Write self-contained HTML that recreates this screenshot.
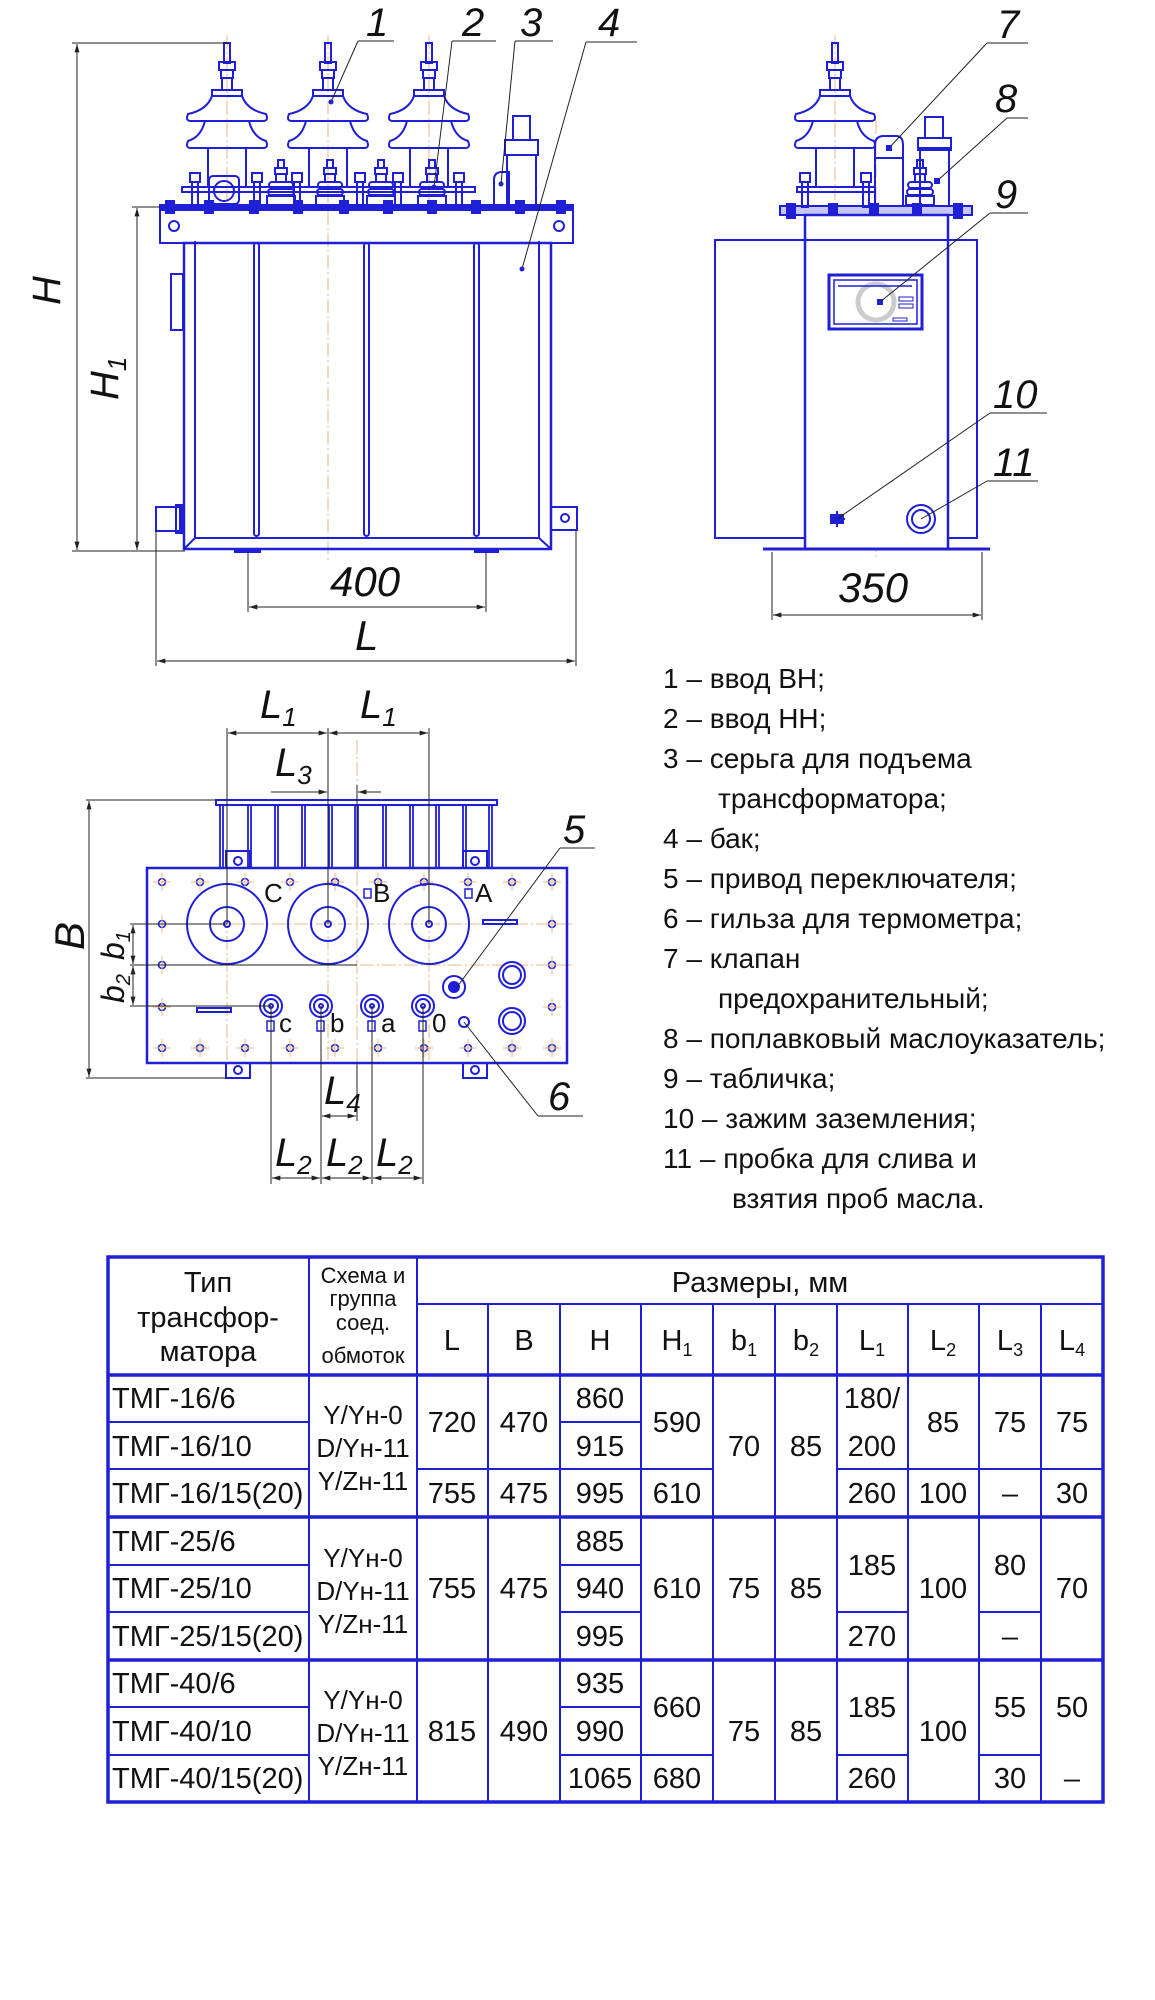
<!DOCTYPE html>
<html><head><meta charset="utf-8"><style>
html,body{margin:0;padding:0;background:#fff}
svg{display:block}
.b{stroke:#1f1fd6;fill:none;stroke-width:2}
.bf{fill:#1f1fd6}
.d{stroke:#222;fill:none;stroke-width:1}
.c{stroke:#e8b98a;stroke-width:1;stroke-dasharray:14 3 2 3;fill:none}
.lab{font-family:"Liberation Sans",sans-serif;font-style:italic;fill:#111}
.lg{font-family:"Liberation Sans Narrow","Liberation Sans","DejaVu Sans",sans-serif;font-size:28px;fill:#111}
.t{font-family:"Liberation Sans Narrow","Liberation Sans",sans-serif;font-size:29px;fill:#111}
.ts{font-family:"Liberation Sans Narrow","Liberation Sans",sans-serif;font-size:22px;fill:#111}
.tsc{font-family:"Liberation Sans Narrow","Liberation Sans",sans-serif;font-size:26px;fill:#111}
.tl{stroke:#1f1fd6;stroke-width:2;fill:none}
.tk{stroke:#1f1fd6;stroke-width:3.5;fill:none}
</style></head><body>
<svg width="1155" height="2000" viewBox="0 0 1155 2000" xmlns="http://www.w3.org/2000/svg">
<defs>
<marker id="ar" viewBox="0 0 10 6" refX="10" refY="3" markerWidth="12" markerHeight="5" orient="auto-start-reverse"><path d="M0,0 L10,3 L0,6 Z" fill="#222"/></marker>
<g id="hv">
<rect x="-3" y="43" width="6" height="20" class="b"/>
<rect x="-8" y="62" width="16" height="8" class="b"/>
<rect x="-6" y="70" width="12" height="8" class="b"/>
<rect x="-5" y="78" width="10" height="12" class="b"/>
<rect x="-15" y="90" width="30" height="6" class="b"/>
<path class="b" d="M-15,96 Q-20,110 -39,114 Q-42,121 -36,121 L36,121 Q42,121 39,114 Q20,110 15,96"/>
<path class="b" d="M-22,121 Q-26,137 -39,141 Q-42,148 -36,148 L36,148 Q42,148 39,141 Q26,137 22,121"/>
<path class="b" d="M-19,148 L-19,188 M19,148 L19,188"/>
</g>
<g id="lv">
<rect x="-3" y="160" width="6" height="8" class="b"/>
<rect x="-6" y="168" width="12" height="6" class="b"/>
<rect x="-5" y="174" width="10" height="8" class="b"/>
<rect x="-12" y="182" width="24" height="6" rx="3" class="b"/>
<rect x="-13" y="189" width="26" height="6" rx="3" class="b"/>
<rect x="-14" y="196" width="28" height="9" class="b"/>
</g>
<g id="st">
<rect x="-5" y="173" width="10" height="9" class="b"/>
<rect x="-3" y="182" width="6" height="25" class="b"/>
</g>
<g id="bh"><circle r="3.5" class="b" style="stroke-width:1.6"/><path d="M-9,0 H9 M0,-9 V9" class="c" style="stroke-dasharray:none"/></g>
</defs>

<!-- ================= FRONT VIEW ================= -->
<g>
<path class="c" d="M227,35 V200 M328,35 V560 M429,35 V200"/>
<use href="#hv" x="227"/><use href="#hv" x="328"/><use href="#hv" x="429"/>
<rect x="182" y="187" width="293" height="5" class="b"/>
<use href="#lv" x="281"/><use href="#lv" x="330"/><use href="#lv" x="381"/><use href="#lv" x="432"/>
<use href="#st" x="195"/><use href="#st" x="257"/><use href="#st" x="297"/><use href="#st" x="360"/><use href="#st" x="398"/><use href="#st" x="459"/>
<rect x="209" y="176" width="30" height="28" rx="4" class="b"/><circle cx="224" cy="191" r="10" class="b"/>
<path class="b" d="M494,204 V180 Q494,172 502,172 L509,172 V204"/>
<rect x="507" y="155" width="29" height="52" class="b"/>
<rect x="505" y="140" width="33" height="15" class="b"/>
<rect x="513" y="116" width="17" height="24" class="b"/>
<rect x="160" y="205" width="413" height="5" class="b bf"/>
<rect x="160" y="210" width="413" height="33" class="b"/>
<circle cx="174" cy="226" r="5" class="b"/><circle cx="559" cy="226" r="5" class="b"/>
<g class="bf">
<rect x="165" y="200" width="10" height="14"/><rect x="204" y="200" width="10" height="14"/><rect x="249" y="200" width="10" height="14"/><rect x="293" y="200" width="10" height="14"/><rect x="339" y="200" width="10" height="14"/><rect x="383" y="200" width="10" height="14"/><rect x="427" y="200" width="10" height="14"/><rect x="471" y="200" width="10" height="14"/><rect x="515" y="200" width="10" height="14"/><rect x="556" y="200" width="10" height="14"/>
</g>
<rect x="184" y="243" width="367" height="306" class="b" style="stroke-width:2.5"/>
<path class="b" d="M195,241 V538 H539 V241 M184,549 L195,538 M551,549 L539,538"/>
<rect x="254" y="243" width="5" height="293" rx="2.5" class="b"/>
<rect x="364" y="243" width="5" height="293" rx="2.5" class="b"/>
<rect x="474" y="243" width="5" height="293" rx="2.5" class="b"/>
<rect x="171" y="274" width="12" height="56" class="b"/>
<rect x="156" y="507" width="24" height="24" class="b"/><rect x="176" y="505" width="6" height="28" class="b"/>
<rect x="551" y="507" width="26" height="23" class="b"/><circle cx="565" cy="518" r="4" class="b"/>
<rect x="235" y="549" width="25" height="3" class="b bf"/><rect x="475" y="549" width="23" height="3" class="b bf"/>
<path class="d" d="M72,43 H228 M72,551 H185 M132,207 H160 M132,551 H160 M248,552 V612 M486,552 V612 M156,531 V666 M576,530 V666"/>
<path class="d" marker-start="url(#ar)" marker-end="url(#ar)" d="M77,44 V550"/>
<path class="d" marker-start="url(#ar)" marker-end="url(#ar)" d="M137,208 V550"/>
<path class="d" marker-start="url(#ar)" marker-end="url(#ar)" d="M249,607 H485"/>
<path class="d" marker-start="url(#ar)" marker-end="url(#ar)" d="M157,661 H575"/>
<text class="lab" font-size="40" transform="translate(60,305) rotate(-90)">H</text>
<text class="lab" font-size="40" transform="translate(118,400) rotate(-90)">H<tspan font-size="26" dy="8">1</tspan></text>
<text class="lab" font-size="42" x="330" y="596">400</text>
<text class="lab" font-size="42" x="355" y="650">L</text>
<path class="d" d="M358,41 H394 M358,41 L331,102 M452,41 H496 M452,41 L434,187 M515,41 H553 M515,41 L501,184 M586,42 H637 M586,42 L522,269"/>
<g class="bf"><circle cx="331" cy="102" r="2.5"/><circle cx="434" cy="187" r="2.5"/><circle cx="501" cy="184" r="2.5"/><circle cx="522" cy="269" r="2.5"/></g>
<text class="lab" font-size="40" x="366" y="36">1</text>
<text class="lab" font-size="40" x="462" y="36">2</text>
<text class="lab" font-size="40" x="520" y="36">3</text>
<text class="lab" font-size="40" x="598" y="36">4</text>
</g>

<!-- ================= SIDE VIEW ================= -->
<g>
<path class="c" d="M876,120 V560 M835,35 V200"/>
<use href="#hv" x="835"/>
<rect x="797" y="187" width="78" height="5" class="b"/>
<use href="#st" x="805"/><use href="#st" x="866"/>
<use href="#lv" x="920"/>
<path class="b" d="M875,206 V145 Q875,136 884,136 L896,136 Q903,136 903,145 V206 M875,158 H903"/>
<rect x="920" y="148" width="29" height="58" class="b"/>
<rect x="918" y="138" width="33" height="12" class="b"/>
<rect x="925" y="117" width="18" height="21" class="b"/>
<rect x="780" y="206" width="192" height="9" class="b bf" style="fill-opacity:.25"/>
<g class="bf"><rect x="786" y="203" width="10" height="16"/><rect x="828" y="203" width="10" height="16"/><rect x="869" y="203" width="10" height="16"/><rect x="912" y="203" width="10" height="16"/><rect x="953" y="203" width="10" height="16"/></g>
<rect x="715" y="240" width="262" height="298" class="b"/>
<rect x="805" y="215" width="143" height="334" class="b" style="fill:#fff;stroke-width:2.5"/>
<path class="b" d="M805,240 H948"/>
<rect x="829" y="275" width="93" height="54" class="b" style="stroke-width:3"/>
<rect x="834" y="280" width="83" height="44" class="b" style="stroke-width:1.5"/>
<circle cx="876" cy="302" r="18" fill="none" stroke="#ccc" stroke-width="5"/>
<path d="M838,286 H912" class="b" style="stroke-width:1.5"/>
<rect x="899" y="297" width="14" height="4" class="b" style="stroke-width:1"/><rect x="899" y="304" width="14" height="4" class="b" style="stroke-width:1"/><rect x="893" y="318" width="14" height="3" class="b" style="stroke-width:1"/>
<path class="b" d="M831,519 H845 M837,511 V527"/><rect x="831" y="515" width="12" height="8" class="b bf"/>
<circle cx="921" cy="519" r="14" class="b"/><circle cx="921" cy="519" r="9" class="b"/>
<path class="b" d="M763,549 H990" style="stroke-width:3"/>
<path class="d" d="M772,552 V620 M982,552 V620"/>
<path class="d" marker-start="url(#ar)" marker-end="url(#ar)" d="M773,615 H981"/>
<text class="lab" font-size="42" x="838" y="602">350</text>
<path class="d" d="M987,43 H1028 M987,43 L889,148 M1007,118 H1028 M1007,118 L937,181 M990,213 H1028 M990,213 L880,302 M990,413 H1047 M990,413 L837,519 M987,481 H1038 M987,481 L921,519"/>
<g class="bf"><rect x="886" y="145" width="6" height="6"/><rect x="934" y="178" width="6" height="6"/><rect x="877" y="299" width="6" height="6"/></g>
<text class="lab" font-size="40" x="997" y="38">7</text>
<text class="lab" font-size="40" x="995" y="112">8</text>
<text class="lab" font-size="40" x="995" y="208">9</text>
<text class="lab" font-size="40" x="993" y="408">10</text>
<text class="lab" font-size="40" x="993" y="476">11</text>
</g>

<!-- ================= PLAN VIEW ================= -->
<g>
<path class="c" d="M140,924 H575 M140,965 H575 M357,740 V1085 M227,870 V1060 M328,870 V1060 M429,870 V1060"/>
<rect x="216" y="800" width="281" height="5" class="b"/>
<g class="b" style="stroke-width:1.8">
<rect x="220" y="805" width="3" height="63"/><rect x="248" y="805" width="3" height="63"/><rect x="275" y="805" width="3" height="63"/><rect x="302" y="805" width="3" height="63"/><rect x="329" y="805" width="3" height="63"/><rect x="355" y="805" width="3" height="63"/><rect x="383" y="805" width="3" height="63"/><rect x="410" y="805" width="3" height="63"/><rect x="436" y="805" width="3" height="63"/><rect x="463" y="805" width="3" height="63"/><rect x="489" y="805" width="3" height="63"/>
</g>
<rect x="226" y="851" width="24" height="17" class="b"/><circle cx="238" cy="861" r="4" class="b"/>
<rect x="463" y="851" width="24" height="17" class="b"/><circle cx="475" cy="861" r="4" class="b"/>
<rect x="226" y="1063" width="24" height="15" class="b"/><circle cx="238" cy="1070" r="4" class="b"/>
<rect x="463" y="1063" width="24" height="15" class="b"/><circle cx="475" cy="1070" r="4" class="b"/>
<rect x="147" y="868" width="420" height="195" class="b" style="stroke-width:2.5"/>
<g>
<use href="#bh" x="162" y="882"/><use href="#bh" x="200" y="882"/><use href="#bh" x="245" y="882"/><use href="#bh" x="290" y="882"/><use href="#bh" x="335" y="882"/><use href="#bh" x="378" y="882"/><use href="#bh" x="424" y="882"/><use href="#bh" x="468" y="882"/><use href="#bh" x="512" y="882"/><use href="#bh" x="552" y="882"/>
<use href="#bh" x="162" y="1048"/><use href="#bh" x="200" y="1048"/><use href="#bh" x="245" y="1048"/><use href="#bh" x="290" y="1048"/><use href="#bh" x="335" y="1048"/><use href="#bh" x="378" y="1048"/><use href="#bh" x="424" y="1048"/><use href="#bh" x="468" y="1048"/><use href="#bh" x="512" y="1048"/><use href="#bh" x="552" y="1048"/>
<use href="#bh" x="162" y="924"/><use href="#bh" x="162" y="965"/><use href="#bh" x="162" y="1007"/>
<use href="#bh" x="552" y="924"/><use href="#bh" x="552" y="965"/><use href="#bh" x="552" y="1007"/>
</g>
<g class="b">
<circle cx="227" cy="924" r="40"/><circle cx="227" cy="924" r="17"/><circle cx="227" cy="924" r="3"/>
<circle cx="328" cy="924" r="40"/><circle cx="328" cy="924" r="17"/><circle cx="328" cy="924" r="3"/>
<circle cx="429" cy="924" r="40"/><circle cx="429" cy="924" r="17"/><circle cx="429" cy="924" r="3"/>
<rect x="483" y="920" width="34" height="4"/><rect x="197" y="1008" width="34" height="4"/>
<rect x="364" y="889" width="7" height="9" style="stroke-width:1.5"/><rect x="465" y="889" width="7" height="9" style="stroke-width:1.5"/>
<circle cx="271" cy="1006" r="11"/><circle cx="271" cy="1006" r="7"/><circle cx="271" cy="1006" r="2"/>
<circle cx="321" cy="1006" r="11"/><circle cx="321" cy="1006" r="7"/><circle cx="321" cy="1006" r="2"/>
<circle cx="372" cy="1006" r="11"/><circle cx="372" cy="1006" r="7"/><circle cx="372" cy="1006" r="2"/>
<circle cx="423" cy="1006" r="11"/><circle cx="423" cy="1006" r="7"/><circle cx="423" cy="1006" r="2"/>
<rect x="267" y="1021" width="7" height="10" style="stroke-width:1.5"/><rect x="317" y="1021" width="7" height="10" style="stroke-width:1.5"/><rect x="368" y="1021" width="7" height="10" style="stroke-width:1.5"/><rect x="419" y="1021" width="7" height="10" style="stroke-width:1.5"/>
<circle cx="454" cy="987" r="11"/><circle cx="454" cy="987" r="5" class="bf"/>
<circle cx="512" cy="975" r="13"/><circle cx="512" cy="975" r="9"/>
<circle cx="512" cy="1021" r="13"/><circle cx="512" cy="1021" r="9"/>
<circle cx="464" cy="1022" r="5"/>
</g>
<g class="lab" style="font-style:normal" font-size="26">
<text x="264" y="902">C</text><text x="373" y="902">B</text><text x="475" y="902">A</text>
<text x="279" y="1032">c</text><text x="330" y="1032">b</text><text x="381" y="1032">a</text><text x="432" y="1032">0</text>
</g>
<path class="d" d="M227,728 V924 M328,728 V924 M429,728 V924 M357,785 V868 M86,800 H216 M86,1078 H226 M130,924 H227 M130,965 H357 M130,1006 H271 M271,1006 V1184 M321,1006 V1184 M372,1006 V1184 M423,1006 V1184 M357,1063 V1121"/>
<path class="d" marker-start="url(#ar)" marker-end="url(#ar)" d="M228,733 H327"/>
<path class="d" marker-start="url(#ar)" marker-end="url(#ar)" d="M329,733 H428"/>
<path class="d" marker-end="url(#ar)" d="M271,792 H327"/><path class="d" marker-end="url(#ar)" d="M381,792 H358"/>
<path class="d" marker-start="url(#ar)" marker-end="url(#ar)" d="M89,801 V1077"/>
<path class="d" marker-start="url(#ar)" marker-end="url(#ar)" d="M133,925 V964"/>
<path class="d" marker-start="url(#ar)" marker-end="url(#ar)" d="M133,966 V1005"/>
<path class="d" marker-start="url(#ar)" marker-end="url(#ar)" d="M322,1116 H356"/>
<path class="d" marker-start="url(#ar)" marker-end="url(#ar)" d="M272,1178 H320"/>
<path class="d" marker-start="url(#ar)" marker-end="url(#ar)" d="M322,1178 H371"/>
<path class="d" marker-start="url(#ar)" marker-end="url(#ar)" d="M373,1178 H422"/>
<text class="lab" font-size="40" x="260" y="718">L<tspan font-size="26" dy="8">1</tspan></text>
<text class="lab" font-size="40" x="360" y="718">L<tspan font-size="26" dy="8">1</tspan></text>
<text class="lab" font-size="40" x="275" y="776">L<tspan font-size="26" dy="8">3</tspan></text>
<text class="lab" font-size="42" transform="translate(84,950) rotate(-90)">B</text>
<text class="lab" font-size="32" transform="translate(124,960) rotate(-90)">b<tspan font-size="20" dy="6">1</tspan></text>
<text class="lab" font-size="32" transform="translate(124,1003) rotate(-90)">b<tspan font-size="20" dy="6">2</tspan></text>
<text class="lab" font-size="40" x="324" y="1104">L<tspan font-size="26" dy="8">4</tspan></text>
<text class="lab" font-size="40" x="275" y="1166">L<tspan font-size="26" dy="8">2</tspan></text>
<text class="lab" font-size="40" x="326" y="1166">L<tspan font-size="26" dy="8">2</tspan></text>
<text class="lab" font-size="40" x="376" y="1166">L<tspan font-size="26" dy="8">2</tspan></text>
<path class="d" d="M560,848 H595 M560,848 L457,987 M538,1116 H583 M538,1116 L464,1022"/>
<text class="lab" font-size="40" x="563" y="843">5</text>
<text class="lab" font-size="40" x="548" y="1110">6</text>
</g>

<!-- ================= LEGEND ================= -->
<g class="lg">
<text x="663" y="688">1 – ввод ВН;</text>
<text x="663" y="728">2 – ввод НН;</text>
<text x="663" y="768">3 – серьга для подъема</text>
<text x="718" y="808">трансформатора;</text>
<text x="663" y="848">4 – бак;</text>
<text x="663" y="888">5 – привод переключателя;</text>
<text x="663" y="928">6 – гильза для термометра;</text>
<text x="663" y="968">7 – клапан</text>
<text x="718" y="1008">предохранительный;</text>
<text x="663" y="1048">8 – поплавковый маслоуказатель;</text>
<text x="663" y="1088">9 – табличка;</text>
<text x="663" y="1128">10 – зажим заземления;</text>
<text x="663" y="1168">11 – пробка для слива и</text>
<text x="732" y="1208">взятия проб масла.</text>
</g>

<!-- ================= TABLE ================= -->
<g>
<rect x="108" y="1257" width="995" height="545" class="tk"/>
<path class="tl" d="M309,1257 V1802 M417,1257 V1802 M488,1304 V1802 M560,1304 V1802 M641,1304 V1802 M713,1304 V1802 M775,1304 V1802 M837,1304 V1802 M908,1304 V1802 M979,1304 V1802 M1041,1304 V1802 M417,1304 H1103"/>
<path class="tk" d="M108,1375 H1103 M108,1517 H1103 M108,1660 H1103"/>
<path class="tl" d="M108,1422 H309 M560,1422 H641 M108,1469 H309 M417,1469 H713 M837,1469 H1103
M108,1565 H309 M560,1565 H641 M108,1612 H309 M560,1612 H641 M837,1612 H908 M979,1612 H1041
M108,1707 H309 M560,1707 H641 M108,1755 H309 M560,1755 H713 M837,1755 H908 M979,1755 H1041"/>
<g class="t" text-anchor="middle">
<text x="208" y="1292">Тип</text><text x="208" y="1327">трансфор-</text><text x="208" y="1361">матора</text>
</g>
<g class="ts" text-anchor="middle">
<text x="363" y="1283">Схема и</text><text x="363" y="1306">группа</text><text x="363" y="1330">соед.</text><text x="363" y="1363">обмоток</text>
</g>
<g class="t" text-anchor="middle">
<text x="760" y="1292">Размеры, мм</text>
<text x="452" y="1350">L</text><text x="524" y="1350">B</text><text x="600" y="1350">H</text>
<text x="677" y="1350">H<tspan font-size="18" dy="6">1</tspan></text>
<text x="744" y="1350">b<tspan font-size="18" dy="6">1</tspan></text>
<text x="806" y="1350">b<tspan font-size="18" dy="6">2</tspan></text>
<text x="872" y="1350">L<tspan font-size="18" dy="6">1</tspan></text>
<text x="943" y="1350">L<tspan font-size="18" dy="6">2</tspan></text>
<text x="1010" y="1350">L<tspan font-size="18" dy="6">3</tspan></text>
<text x="1072" y="1350">L<tspan font-size="18" dy="6">4</tspan></text>
</g>
<g class="t">
<text x="112" y="1408">ТМГ-16/6</text><text x="112" y="1456">ТМГ-16/10</text><text x="112" y="1503">ТМГ-16/15(20)</text>
<text x="112" y="1551">ТМГ-25/6</text><text x="112" y="1598">ТМГ-25/10</text><text x="112" y="1646">ТМГ-25/15(20)</text>
<text x="112" y="1693">ТМГ-40/6</text><text x="112" y="1741">ТМГ-40/10</text><text x="112" y="1788">ТМГ-40/15(20)</text>
</g>
<g class="tsc" text-anchor="middle">
<text x="363" y="1424">Y/Yн-0</text><text x="363" y="1457">D/Yн-11</text><text x="363" y="1490">Y/Zн-11</text>
<text x="363" y="1567">Y/Yн-0</text><text x="363" y="1600">D/Yн-11</text><text x="363" y="1633">Y/Zн-11</text>
<text x="363" y="1709">Y/Yн-0</text><text x="363" y="1742">D/Yн-11</text><text x="363" y="1775">Y/Zн-11</text>
</g>
<g class="t" text-anchor="middle">
<text x="452" y="1432">720</text><text x="524" y="1432">470</text><text x="600" y="1408">860</text><text x="600" y="1456">915</text><text x="677" y="1432">590</text>
<text x="452" y="1503">755</text><text x="524" y="1503">475</text><text x="600" y="1503">995</text><text x="677" y="1503">610</text>
<text x="744" y="1456">70</text><text x="806" y="1456">85</text>
<text x="872" y="1408">180/</text><text x="872" y="1456">200</text><text x="872" y="1503">260</text>
<text x="943" y="1432">85</text><text x="943" y="1503">100</text>
<text x="1010" y="1432">75</text><text x="1010" y="1503">–</text>
<text x="1072" y="1432">75</text><text x="1072" y="1503">30</text>
<text x="452" y="1598">755</text><text x="524" y="1598">475</text><text x="600" y="1551">885</text><text x="600" y="1598">940</text><text x="600" y="1646">995</text>
<text x="677" y="1598">610</text><text x="744" y="1598">75</text><text x="806" y="1598">85</text>
<text x="872" y="1575">185</text><text x="872" y="1646">270</text><text x="943" y="1598">100</text>
<text x="1010" y="1575">80</text><text x="1010" y="1646">–</text><text x="1072" y="1598">70</text>
<text x="452" y="1741">815</text><text x="524" y="1741">490</text><text x="600" y="1693">935</text><text x="600" y="1741">990</text><text x="600" y="1788">1065</text>
<text x="677" y="1717">660</text><text x="677" y="1788">680</text><text x="744" y="1741">75</text><text x="806" y="1741">85</text>
<text x="872" y="1717">185</text><text x="872" y="1788">260</text><text x="943" y="1741">100</text>
<text x="1010" y="1717">55</text><text x="1010" y="1788">30</text><text x="1072" y="1717">50</text><text x="1072" y="1788">–</text>
</g>
</g>
</svg>
</body></html>
